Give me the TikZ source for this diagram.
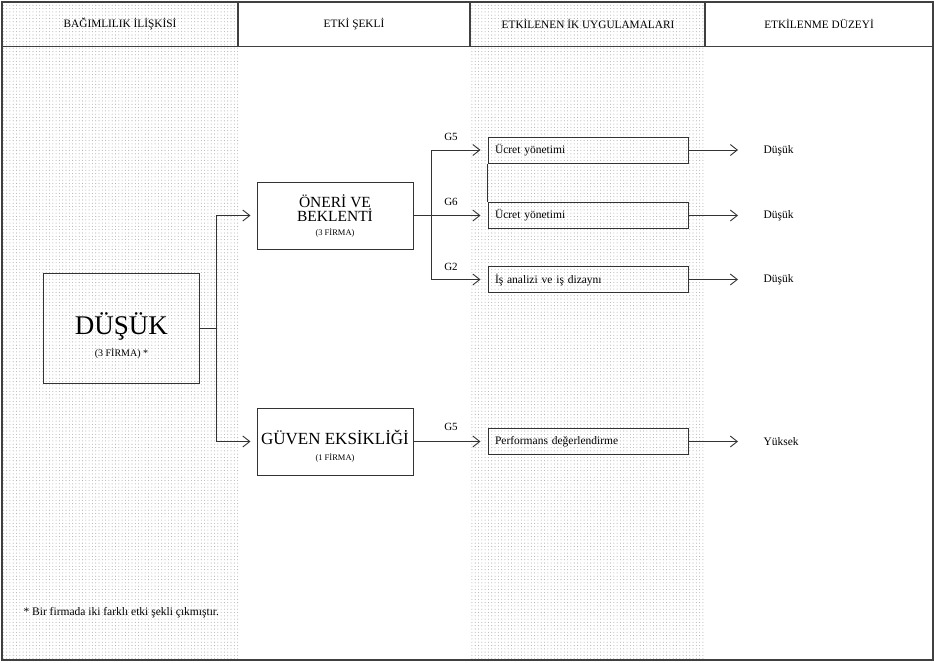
\documentclass[tikz,border=0pt]{standalone}
\usepackage{fontspec}
\setmainfont{Liberation Serif}
\usetikzlibrary{arrows.meta,patterns.meta}
\newcommand{\fs}[1]{\fontsize{#1}{#1}\selectfont}
\tikzset{
  frameline/.style={draw=black!75, line width=1.3pt},
  shade/.style={pattern={Dots[radius=0.55pt, distance=3.3pt]}, pattern color=black!30},
  box/.style={draw=black!80, line width=1pt},
  itembox/.style={draw=black!80, line width=1pt, minimum width=200pt, minimum height=26pt, text width=186pt, align=left, font=\fs{11.5}, inner sep=0pt},
  conn/.style={draw=black!80, line width=0.9pt},
  arr/.style={conn, -{Straight Barb[length=7pt,width=11pt,line width=0.9pt]}},
  head/.style={font=\fs{11.3}, anchor=center},
  glabel/.style={font=\fs{11}, anchor=south},
  lvl/.style={font=\fs{11.5}, anchor=west},
}
\begin{document}
\begin{tikzpicture}[x=1pt,y=-1pt]
\useasboundingbox (0,0) rectangle (934,662);
% shaded columns
\fill[shade] (2,2) rectangle (238,660);
\fill[shade] (470,2) rectangle (705,660);
% frame and header
\draw[frameline] (2,2) rectangle (933,660);
\draw[frameline] (2,46.5) -- (933,46.5);
\foreach \xx in {238,470,705} \draw[frameline] (\xx,2) -- (\xx,46.5);
\node[head] (h1) at (120,24) {BAĞIMLILIK İLİŞKİSİ};
\node[head] (h2) at (354,24) {ETKİ ŞEKLİ};
\node[head] (h3) at (588,24) {ETKİLENEN İK UYGULAMALARI};
\node[head] (h4) at (819,24) {ETKİLENME DÜZEYİ};

% main boxes
\node[box, minimum width=156pt, minimum height=110pt, inner sep=0pt] (dusuk) at (121.5,328) {};
\node[font=\fs{27}] (dusukt) at (121.5,326) {DÜŞÜK};
\node[font=\fs{10}] (dusukf) at (121.5,353) {(3 FİRMA) *};

\node[box, minimum width=156pt, minimum height=67pt, inner sep=0pt] (oneri) at (335,215.5) {};
\node[font=\fs{15.5}, align=center] (onerit) at (335,208) {ÖNERİ VE\\[-1pt]BEKLENTİ};
\node[font=\fs{8.5}] (onerif) at (335,233) {(3 FİRMA)};

\node[box, minimum width=156pt, minimum height=67pt, inner sep=0pt] (guven) at (335,441.5) {};
\node[font=\fs{17}] (guvent) at (335,437) {GÜVEN EKSİKLİĞİ};
\node[font=\fs{8.5}] (guvenf) at (335,458) {(1 FİRMA)};

% affected practices
\node[itembox] (u1) at (588,150) {Ücret yönetimi};
\node[itembox] (u2) at (588,215.5) {Ücret yönetimi};
\node[itembox] (u3) at (588,279.5) {İş analizi ve iş dizaynı};
\node[itembox] (u4) at (588,441.5) {Performans değerlendirme};
\draw[conn] (u1.south west) -- (u2.north west);

% levels
\node[lvl] (l1) at (760,151) {Düşük};
\node[lvl] (l2) at (760,215.5) {Düşük};
\node[lvl] (l3) at (760,280) {Düşük};
\node[lvl] (l4) at (760,441.5) {Yüksek};

% connectors from DÜŞÜK
\coordinate (j1) at (216,328);
\draw[conn] (dusuk.east) -- (j1);
\draw[arr] (j1) |- ([xshift=-6pt]oneri.west);
\draw[arr] (j1) |- ([xshift=-6pt]guven.west);

% connectors from ÖNERİ VE BEKLENTİ
\coordinate (j2) at (431,215.5);
\draw[conn] (oneri.east) -- (j2);
\draw[arr] (j2) |- ([xshift=-7pt]u1.west);
\draw[arr] (j2) -- ([xshift=-7pt]u2.west);
\draw[arr] (j2) |- ([xshift=-7pt]u3.west);
\draw[arr] (guven.east) -- ([xshift=-7pt]u4.west);

\node[glabel] (g1) at (451,144) {G5};
\node[glabel] (g2) at (451,209) {G6};
\node[glabel] (g3) at (451,274) {G2};
\node[glabel] (g4) at (451,434) {G5};

% connectors to levels
\draw[arr] (u1.east) -- ([xshift=-22pt]l1.west |- u1.east);
\draw[arr] (u2.east) -- ([xshift=-22pt]l2.west |- u2.east);
\draw[arr] (u3.east) -- ([xshift=-22pt]l3.west |- u3.east);
\draw[arr] (u4.east) -- ([xshift=-22pt]l4.west |- u4.east);

% footnote
\node[font=\fs{11.5}, anchor=west] (note) at (20,613) {* Bir firmada iki farklı etki şekli çıkmıştır.};
\end{tikzpicture}
\end{document}
